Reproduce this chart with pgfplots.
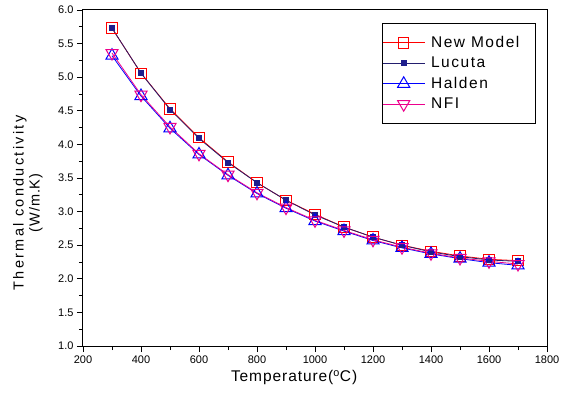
\documentclass[border=0pt]{standalone}
\usepackage{pgfplots}
\pgfplotsset{compat=1.18}
\usepackage{fontspec}
\setmainfont{Liberation Sans}
\newfontfamily\legfont[LetterSpace=10]{Liberation Sans}
\newfontfamily\xlabfont[LetterSpace=6]{Liberation Sans}
\newfontfamily\ylabfontA[LetterSpace=16]{Liberation Sans}
\newfontfamily\ylabfontB[LetterSpace=6]{Liberation Sans}
\definecolor{navy}{RGB}{35,30,110}
\definecolor{navymark}{RGB}{30,30,140}
\begin{document}
\begin{tikzpicture}
\useasboundingbox (-83pt,-61pt) rectangle (481pt,346pt);
\begin{axis}[
  at={(0pt,0pt)}, anchor=south west,
  width=464pt, height=336pt, scale only axis,
  xmin=200, xmax=1800, ymin=1.0, ymax=6.0,
  xtick={200,400,...,1800}, ytick={1.0,1.5,...,6.0},
  minor x tick num=1, minor y tick num=1,
  tick align=outside, xtick pos=bottom, ytick pos=left,
  major tick length=6pt, minor tick length=4pt,
  tick style={black, line width=0.8pt},
  axis line style={line width=1pt},
  /pgf/number format/assume math mode=true,
  xticklabel style={font=\fontsize{11}{13}\selectfont, /pgf/number format/.cd, 1000 sep={}},
  yticklabel style={font=\fontsize{11}{13}\selectfont, /pgf/number format/.cd, fixed, fixed zerofill, precision=1},
  xlabel={\fontsize{15.5}{18}\xlabfont Temperature($^{\mathrm{o}}$C)},
  ylabel={\begin{tabular}{c}\ylabfontA Thermal\hspace{0.45em}conductivity\\[-1pt]\ylabfontB (W/m.K)\end{tabular}},
  label style={font=\fontsize{14.5}{17}\selectfont},
  xlabel style={at={(axis description cs:0.455,-0.095)}, anchor=center},
  ylabel style={at={(axis description cs:-0.118,0.426)}, anchor=center},
  legend style={at={(0.976,0.961)}, anchor=north east, draw=black, line width=0.8pt,
    font=\fontsize{15.5}{18}\selectfont\legfont, row sep=6pt, column sep=6pt, inner xsep=0pt, inner ysep=12pt,
    nodes={inner xsep=0pt, inner ysep=1pt}},
  legend cell align=left,
  legend image code/.code={\draw[#1] (0pt,0pt) -- (42pt,0pt); \draw[#1, only marks] plot coordinates {(21pt,0pt)};},
]
\addplot[red, line width=0.8pt, mark=square, mark size=5.2pt, mark options={solid, line width=0.9pt}] coordinates {
(300,5.73)(400,5.06)(500,4.53)(600,4.10)(700,3.74)(800,3.43)(900,3.17)(1000,2.96)(1100,2.77)(1200,2.62)(1300,2.50)(1400,2.41)(1500,2.34)(1600,2.29)(1700,2.27)};
\addlegendentry{New Model\kern16pt}
\addplot[navy, line width=0.8pt, mark=square*, mark size=2.5pt, mark options={fill=navymark, draw=navymark}] coordinates {
(300,5.73)(400,5.06)(500,4.52)(600,4.09)(700,3.73)(800,3.43)(900,3.17)(1000,2.95)(1100,2.77)(1200,2.62)(1300,2.50)(1400,2.40)(1500,2.33)(1600,2.28)(1700,2.26)};
\addlegendentry{Lucuta}
\addplot[blue, line width=0.8pt, mark=triangle, mark size=7pt, mark options={solid, line width=1pt}] coordinates {
(300,5.32)(400,4.72)(500,4.24)(600,3.85)(700,3.54)(800,3.27)(900,3.05)(1000,2.86)(1100,2.71)(1200,2.57)(1300,2.46)(1400,2.37)(1500,2.30)(1600,2.24)(1700,2.20)};
\addlegendentry{Halden}
\addplot[magenta, line width=0.8pt, mark=triangle, mark size=7pt, mark options={solid, line width=1pt, rotate=180}] coordinates {
(300,5.36)(400,4.74)(500,4.26)(600,3.86)(700,3.55)(800,3.28)(900,3.06)(1000,2.87)(1100,2.72)(1200,2.58)(1300,2.47)(1400,2.38)(1500,2.31)(1600,2.26)(1700,2.22)};
\addlegendentry{NFI}
\end{axis}
\end{tikzpicture}
\end{document}
